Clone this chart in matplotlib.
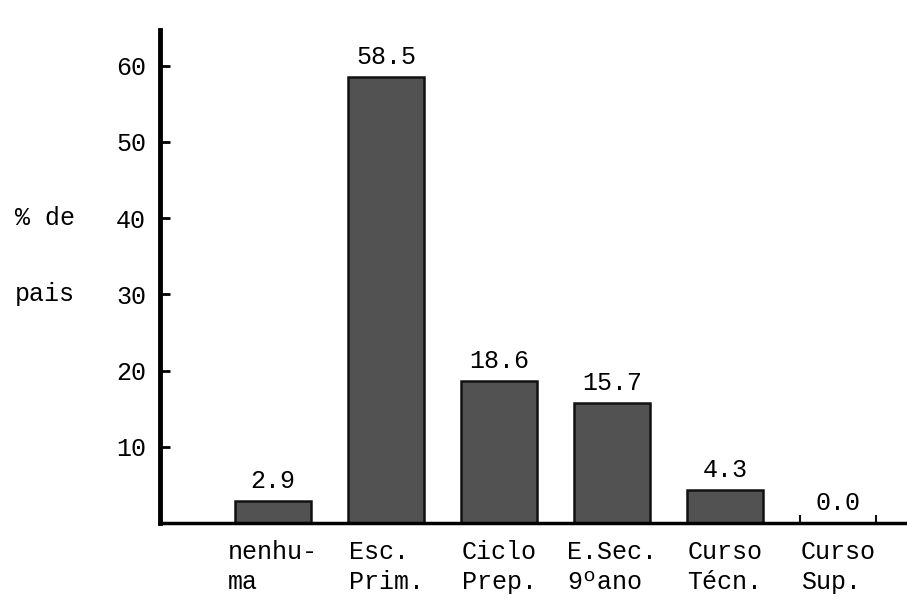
"""
Bar chart: parents' schooling level (% de pais).
"""

import matplotlib
matplotlib.use('Agg')
import matplotlib.pyplot as plt
import numpy as np


CATEGORIES = [
    'nenhu-\nma', 'Esc.\nPrim.', 'Ciclo\nPrep.', 'E.Sec.\n9ºano',
    'Curso\nTécn.', 'Curso\nSup.']

VALUES = [2.9, 58.5, 18.6, 15.7, 4.3, 0.0]

Y_TICKS = [10, 20, 30, 40, 50, 60]

FONT = 'Liberation Mono'

BAR_COLOR = '#525252'


def main():

    fig = plt.figure(figsize=(9.07, 6.02), dpi=100)
    axes = fig.add_axes([0.1764, 0.1312, 0.8236, 0.8190])

    x = np.arange(len(VALUES))
    width = 0.68
    axes.bar(x, VALUES, width=width, color=BAR_COLOR,
             edgecolor='#111111', linewidth=1.8)

    # Zero bar shown only by its two edge marks.
    for i, v in enumerate(VALUES):
        if v == 0:
            axes.vlines([i - width / 2, i + width / 2], 0, 1.0,
                        color='#111111', linewidth=1.5)

    for i, v in enumerate(VALUES):
        axes.text(i, v + 1.1, f'{v:.1f}', ha='center', va='bottom',
                  fontsize=18, family=FONT)

    for i, label in enumerate(CATEGORIES):
        axes.text(i, -2.2, label, ha='center', va='top',
                  multialignment='left', fontsize=18, family=FONT,
                  linespacing=1.35)

    axes.set_xlim(-1.0, 5.61)
    axes.set_ylim(0, 64.7)
    axes.set_xticks([])
    axes.set_yticks(Y_TICKS)
    axes.set_yticklabels([str(t) for t in Y_TICKS], family=FONT,
                         fontsize=18)
    axes.tick_params(axis='y', direction='in', length=7, width=2, pad=10)

    for side in ('top', 'right'):
        axes.spines[side].set_visible(False)
    axes.spines['left'].set_linewidth(3.5)
    axes.spines['bottom'].set_linewidth(2.5)

    axes.text(-0.114, 40, '% de', transform=axes.get_yaxis_transform(),
              ha='right', va='center', fontsize=18, family=FONT)
    axes.text(-0.114, 30, 'pais', transform=axes.get_yaxis_transform(),
              ha='right', va='center', fontsize=18, family=FONT)

    fig.savefig('out.png', dpi=100)
    plt.close(fig)


if __name__ == '__main__':
    main()
